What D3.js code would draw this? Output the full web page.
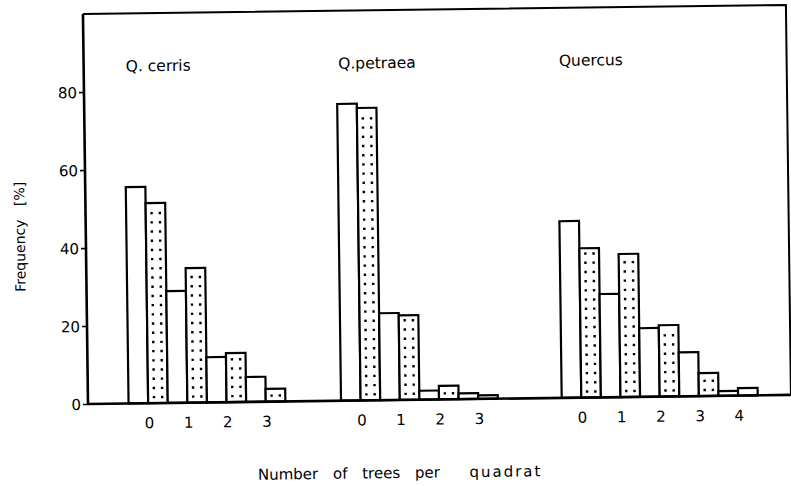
<!DOCTYPE html>
<html>
<head>
<meta charset="utf-8">
<script src="https://cdn.jsdelivr.net/npm/d3@7/dist/d3.min.js"></script>
<style>
  html, body { margin: 0; padding: 0; background: #fff; }
  svg { display: block; }
  text { font-family: "DejaVu Sans", "Liberation Sans", sans-serif; fill: #000; }
</style>
</head>
<body>
<svg id="chart" width="791" height="486"></svg>
<script>
// Species panels and the tree counts shown under each panel
const species = ["Q. cerris", "Q.petraea", "Quercus"];
const cerrisCounts = ["0", "1", "2", "3"];
const petraeaCounts = ["0", "1", "2", "3"];
const quercusCounts = ["0", "1", "2", "3", "4"];

// Frequency (%) of quadrats with n trees: open bar and dotted bar per count
const cerrisOpen = [55.5, 28.7, 11.6, 6.4];
const cerrisDotted = [51.3, 34.5, 12.6, 3.3];
const petraeaOpen = [76.1, 22.3, 2.3, 1.5];
const petraeaDotted = [75.0, 21.7, 3.5, 0.9];
const quercusOpen = [45.3, 26.5, 17.6, 11.3, 1.2];
const quercusDotted = [38.3, 36.7, 18.3, 5.9, 1.9];

const yTicks = [0, 20, 40, 60, 80];

const panels = [
  { name: species[0], counts: cerrisCounts, open: cerrisOpen, dotted: cerrisDotted },
  { name: species[1], counts: petraeaCounts, open: petraeaOpen, dotted: petraeaDotted },
  { name: species[2], counts: quercusCounts, open: quercusOpen, dotted: quercusDotted }
];

// Layout: bars sit on a slot axis, one slot per bar; gaps (in slots) separate panels
const panelGaps = [2.84, 3.26];
let slot = 0;
panels.forEach((p, i) => {
  p.start = slot;
  slot += p.counts.length * 2 + (panelGaps[i] || 0);
});

const originX = 88, originY = 404;
const slotWidth = 19.6;
const x = d3.scaleLinear()
  .domain([-2.07, 0])
  .range([originX, originX + 2.07 * slotWidth]);
const y = d3.scaleLinear().domain([0, 100]).range([originY, 14]);
const frameRight = 791;

const svg = d3.select("#chart");
// the whole plate is set slightly askew
const g = svg.append("g")
  .attr("transform", `rotate(-0.74 ${originX} ${originY})`);

// frame: top and right edges
g.append("path")
  .attr("d", `M${frameRight},${originY} L${frameRight},${y(100)} L${originX},${y(100)}`)
  .attr("fill", "none").attr("stroke", "#000").attr("stroke-width", 2);

// y axis with left ticks
const yAxis = d3.axisLeft(y).tickValues(yTicks).tickSize(5).tickPadding(2);
const ya = g.append("g").attr("transform", `translate(${originX},0)`).call(yAxis);
ya.select(".domain").attr("stroke-width", 2.6).attr("d", `M0,${y(0)}V${y(100)}`);
ya.selectAll(".tick line").attr("stroke-width", 1.6);
ya.selectAll(".tick text").attr("font-size", 15).attr("dy", "0.36em").attr("fill", "#000");

// bars
const bars = [];
panels.forEach(p => {
  p.counts.forEach((c, k) => {
    bars.push({ slot: p.start + 2 * k, value: p.open[k], dotted: false });
    bars.push({ slot: p.start + 2 * k + 1, value: p.dotted[k], dotted: true });
  });
});

const barW = x(1) - x(0);
g.selectAll("rect.bar").data(bars).join("rect")
  .attr("class", "bar")
  .attr("x", d => x(d.slot))
  .attr("y", d => y(d.value))
  .attr("width", barW)
  .attr("height", d => y(0) - y(d.value))
  .attr("fill", "#fff")
  .attr("stroke", "#000")
  .attr("stroke-width", 2.2);

// stipple inside the dotted bars: two columns of small square dots
const dots = [];
bars.filter(d => d.dotted).forEach(d => {
  const x0 = x(d.slot), top = y(d.value);
  for (let yy = y(0) - 6; yy > top + 3; yy -= 9.2) {
    dots.push({ cx: x0 + barW * 0.3, cy: yy });
    dots.push({ cx: x0 + barW * 0.72, cy: yy });
  }
});
g.selectAll("rect.dot").data(dots).join("rect")
  .attr("class", "dot")
  .attr("x", d => d.cx - 1.2)
  .attr("y", d => d.cy - 1.2)
  .attr("width", 2.4).attr("height", 2.4)
  .attr("fill", "#000");

// baseline
g.append("line")
  .attr("x1", originX).attr("x2", frameRight)
  .attr("y1", y(0)).attr("y2", y(0))
  .attr("stroke", "#000").attr("stroke-width", 2.6);

// count labels centred under each pair of bars, species name above each panel
panels.forEach(p => {
  g.selectAll(null).data(p.counts).join("text")
    .attr("x", (c, k) => x(p.start + 2 * k + 1) + 1)
    .attr("y", 429)
    .attr("text-anchor", "middle")
    .attr("font-size", 15)
    .attr("fill", "#000")
    .text(c => c);
  g.append("text")
    .attr("x", x(p.start) + 1.5)
    .attr("y", 72)
    .attr("font-size", 15.5)
    .attr("fill", "#000")
    .text(p.name);
});

// axis titles
g.append("text")
  .attr("transform", "translate(27,236) rotate(-90)")
  .attr("text-anchor", "middle")
  .attr("font-size", 14)
  .attr("fill", "#000")
  .style("white-space", "pre")
  .text("Frequency   [%]");

const xTitle = g.append("text")
  .attr("x", 257)
  .attr("y", 482)
  .attr("font-size", 15)
  .attr("fill", "#000")
  .attr("word-spacing", 10)
  .style("white-space", "pre");
xTitle.append("tspan").text("Number of trees per  ");
xTitle.append("tspan").attr("letter-spacing", 2).text("quadrat");
</script>
</body>
</html>
